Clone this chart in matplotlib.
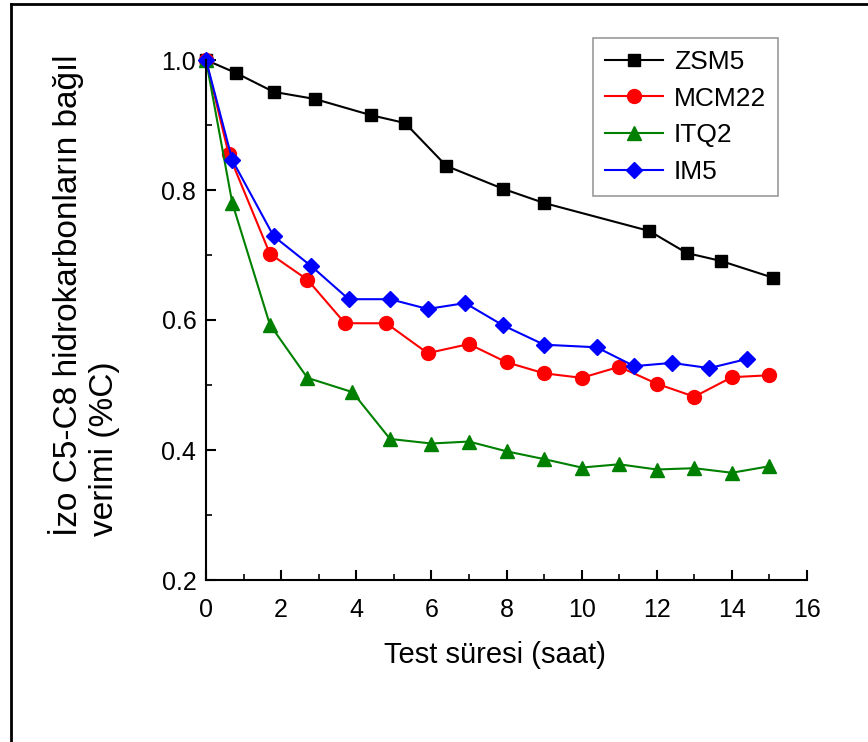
import numpy as np
import matplotlib
matplotlib.use("Agg")
import matplotlib.pyplot as plt
from matplotlib.lines import Line2D
from matplotlib.ticker import MultipleLocator

# data
zsm5_x = [0, 0.8, 1.8, 2.9, 4.4, 5.3, 6.4, 7.9, 9.0, 11.8, 12.8, 13.7, 15.1]
zsm5_y = [1.0, 0.98, 0.951, 0.94, 0.915, 0.903, 0.837, 0.802, 0.780, 0.737, 0.703, 0.691, 0.665]

mcm22_x = [0, 0.6, 1.7, 2.7, 3.7, 4.8, 5.9, 7.0, 8.0, 9.0, 10.0, 11.0, 12.0, 13.0, 14.0, 15.0]
mcm22_y = [1.0, 0.856, 0.702, 0.662, 0.595, 0.595, 0.549, 0.563, 0.535, 0.518, 0.511, 0.528, 0.502, 0.482, 0.512, 0.515]

itq2_x = [0, 0.7, 1.7, 2.7, 3.9, 4.9, 6.0, 7.0, 8.0, 9.0, 10.0, 11.0, 12.0, 13.0, 14.0, 15.0]
itq2_y = [1.0, 0.78, 0.593, 0.511, 0.489, 0.417, 0.41, 0.413, 0.398, 0.386, 0.373, 0.378, 0.37, 0.372, 0.365, 0.375]

im5_x = [0, 0.7, 1.8, 2.8, 3.8, 4.9, 5.9, 6.9, 7.9, 9.0, 10.4, 11.4, 12.4, 13.4, 14.4]
im5_y = [1.0, 0.846, 0.729, 0.683, 0.632, 0.632, 0.617, 0.626, 0.592, 0.562, 0.558, 0.529, 0.534, 0.526, 0.540]

plt.rcParams['font.family'] = ['Liberation Sans', 'DejaVu Sans']

fig = plt.figure(figsize=(8.68, 7.42), dpi=100)
ax = fig.add_axes([206/868, 1 - 580/742, (807-206)/868, (580-60)/742])

series = [("ZSM5", zsm5_x, zsm5_y, "black", "s", 8.5),
          ("MCM22", mcm22_x, mcm22_y, "#ff0000", "o", 10),
          ("ITQ2", itq2_x, itq2_y, "#008000", "^", 10),
          ("IM5", im5_x, im5_y, "#0000ff", "D", 8.5)]

for name, x, y, c, m, ms in series:
    ax.plot(x, y, color=c, marker=m, markersize=ms, lw=1.5, label=name, clip_on=False)

ax.set_xlim(0, 16)
ax.set_ylim(0.2, 1.0)
ax.xaxis.set_major_locator(MultipleLocator(2))
ax.xaxis.set_minor_locator(MultipleLocator(1))
ax.yaxis.set_major_locator(MultipleLocator(0.2))
ax.yaxis.set_minor_locator(MultipleLocator(0.1))
ax.yaxis.set_major_formatter(plt.FormatStrFormatter('%.1f'))
ax.spines['top'].set_visible(False)
ax.spines['right'].set_visible(False)
ax.spines['left'].set_linewidth(1.5)
ax.spines['bottom'].set_linewidth(1.5)
ax.tick_params(which='major', direction='in', length=7, width=1.5, labelsize=18)
ax.tick_params(axis='x', which='major', pad=13)
ax.tick_params(axis='y', which='major', pad=7)
ax.tick_params(which='minor', direction='in', length=4, width=1.2)

ax.set_xlabel('Test süresi (saat)', fontsize=21)
ax.xaxis.set_label_coords((495 - 206) / 601, (580 - 655) / 520)
ax.xaxis.label.set_va('center')
ax.set_ylabel('İzo C5-C8 hidrokarbonların bağıl\nverimi (%C)', fontsize=24,
              linespacing=1.2, multialignment='left')
ax.yaxis.set_label_coords(-0.143, (580 - 295) / 520)

leg = ax.legend(loc='upper right', bbox_to_anchor=(778/868, 1 - 38/742),
                bbox_transform=fig.transFigure, fontsize=19, numpoints=1,
                fancybox=False, edgecolor='gray', handlelength=2.2,
                labelspacing=0.48, borderpad=0.45, handletextpad=0.4,
                borderaxespad=0)
leg.get_frame().set_linewidth(1.2)

# outer frame (only top and left edges visible)
fig.add_artist(Line2D([11/868, 1], [1 - 4/742, 1 - 4/742], color='black', lw=2, transform=fig.transFigure))
fig.add_artist(Line2D([11/868, 11/868], [0, 1 - 4/742], color='black', lw=2, transform=fig.transFigure))

fig.savefig('out.png', dpi=100)
